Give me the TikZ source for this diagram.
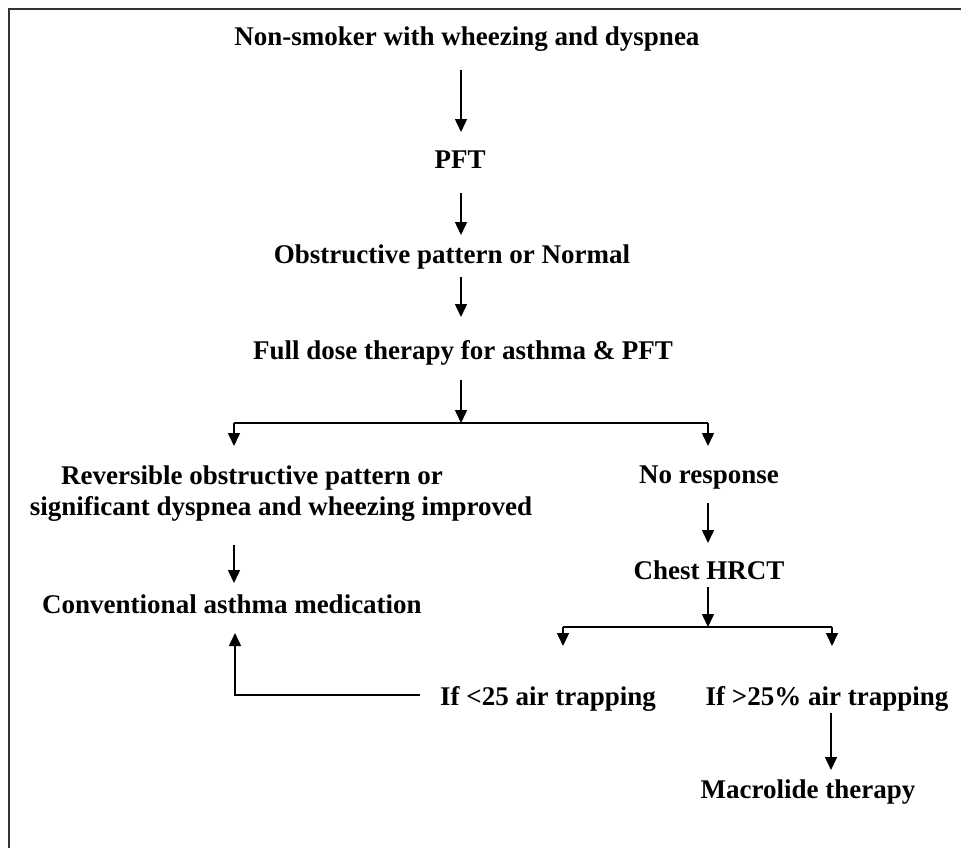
\documentclass[tikz,border=0pt]{standalone}
\usepackage{fontspec}
\setmainfont{Liberation Serif}
\usetikzlibrary{arrows.meta}
\begin{document}
\begin{tikzpicture}[x=1pt,y=-1pt,
  lbl/.style={anchor=base,inner sep=0pt,font=\fontsize{27}{31}\selectfont\bfseries},
  arr/.style={line width=1.5pt,-{Triangle[length=13pt,width=12pt]}},
  ln/.style={line width=1.5pt},
  frame/.style={line width=2.2pt,draw=black!80}]
\useasboundingbox (0,0) rectangle (961,847);
\draw[frame] (9,9) rectangle (975,870);

% nodes
\node[lbl] (n1) at (467,45) {Non-smoker with wheezing and dyspnea};
\node[lbl] (pft) at (460,168) {PFT};
\node[lbl] (obs) at (452,263) {Obstructive pattern or Normal};
\node[lbl] (full) at (463,359) {Full dose therapy for asthma \& PFT};
\node[lbl] (rev1) at (252,484) {Reversible obstructive pattern or};
\node[lbl] (rev2) at (281,515) {significant dyspnea and wheezing improved};
\node[lbl] (nores) at (709,483) {No response};
\node[lbl] (conv) at (232,613) {Conventional asthma medication};
\node[lbl] (chest) at (709,579) {Chest HRCT};
\node[lbl] (iflt) at (548,705) {If <25 air trapping};
\node[lbl] (ifgt) at (827,705) {If >25\% air trapping};
\node[lbl] (macro) at (808,798) {Macrolide therapy};

% connector end points
\coordinate (a1s) at (461,70);   \coordinate (a1e) at (461,132);
\coordinate (a2s) at (461,193);  \coordinate (a2e) at (461,235);
\coordinate (a3s) at (461,277);  \coordinate (a3e) at (461,317);
\coordinate (a4s) at (461,380);  \coordinate (a4e) at (461,423);
\coordinate (b1l) at (234,423);  \coordinate (b1r) at (708,423);
\coordinate (b1le) at (234,446); \coordinate (b1re) at (708,446);
\coordinate (a5s) at (234,545);  \coordinate (a5e) at (234,583);
\coordinate (a6s) at (708,503);  \coordinate (a6e) at (708,543);
\coordinate (a7s) at (708,587);  \coordinate (a7e) at (708,627);
\coordinate (b2l) at (563,627);  \coordinate (b2r) at (832,627);
\coordinate (b2le) at (563,646); \coordinate (b2re) at (832,646);
\coordinate (fbs) at (420,695);  \coordinate (fbc) at (235,695);
\coordinate (fbe) at (235,633);
\coordinate (a8s) at (831,713);  \coordinate (a8e) at (831,770);

% connectors
\draw[arr] (a1s) -- (a1e);
\draw[arr] (a2s) -- (a2e);
\draw[arr] (a3s) -- (a3e);
\draw[arr] (a4s) -- (a4e);
\draw[ln] (b1l) -- (b1r);
\draw[arr] (b1l) -- (b1le);
\draw[arr] (b1r) -- (b1re);
\draw[arr] (a5s) -- (a5e);
\draw[arr] (a6s) -- (a6e);
\draw[arr] (a7s) -- (a7e);
\draw[ln] (b2l) -- (b2r);
\draw[arr] (b2l) -- (b2le);
\draw[arr] (b2r) -- (b2re);
\draw[arr] (fbs) -- (fbc) -- (fbe);
\draw[arr] (a8s) -- (a8e);
\end{tikzpicture}
\end{document}
